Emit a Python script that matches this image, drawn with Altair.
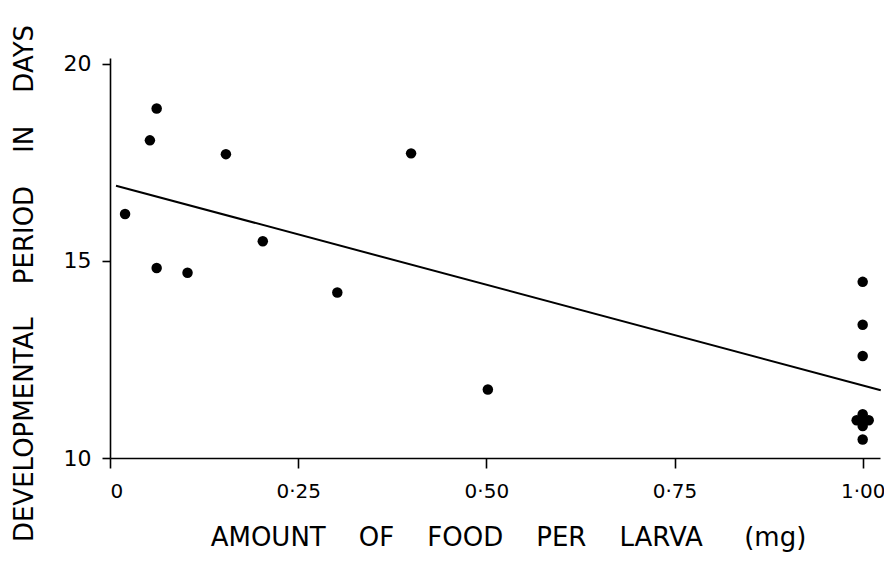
import altair as alt
import pandas as pd

# Data
food_mg = [0.02, 0.053, 0.062, 0.062, 0.103, 0.154, 0.203, 0.302, 0.40, 0.502,
           1.0, 1.0, 1.0, 0.992, 1.0, 1.008, 1.0, 1.0, 1.0]
dev_days = [16.19, 18.06, 18.87, 14.82, 14.70, 17.71, 15.5, 14.2, 17.73, 11.74,
            14.47, 13.38, 12.59, 10.96, 11.11, 10.96, 10.81, 10.96, 10.47]

fit_x = [0.008, 1.024]
fit_y = [16.91, 11.72]

x_ticks = [0, 0.25, 0.5, 0.75, 1.0]
y_ticks = [10, 15, 20]

NB = "\u00a0"
gap_x = NB * 4
gap_y = NB * 4
x_title = gap_x.join(["AMOUNT", "OF", "FOOD", "PER", "LARVA", NB + "(mg)"])
y_title = gap_y.join(["DEVELOPMENTAL", "PERIOD", "IN", "DAYS"])

pts = pd.DataFrame({"x": food_mg, "y": dev_days})
fit = pd.DataFrame({"x": fit_x, "y": fit_y})

FONT = "DejaVu Sans"

xscale = alt.Scale(domain=[0, 1.023], nice=False, zero=False)
yscale = alt.Scale(domain=[10, 20.15], nice=False, zero=False)

xaxis = alt.Axis(
    values=x_ticks,
    labelExpr="datum.value == 0 ? '0' : replace(format(datum.value, '.2f'), '.', '\u00b7')",
    title=x_title,
    grid=False,
    tickSize=10,
    labelPadding=13,
    labelFontSize=20,
    titleFontSize=26,
    titleX=398,
    titleY=87,
    titleBaseline="alphabetic",
    titleAlign="center",
)
yaxis = alt.Axis(
    values=y_ticks,
    title=y_title,
    grid=False,
    tickSize=8,
    labelPadding=11,
    labelFontSize=22,
    titleFontSize=26,
    titleAngle=270,
    titleX=-86,
    titleY=225,
    titleBaseline="middle",
    titleAlign="center",
)

points = alt.Chart(pts).mark_circle(size=110, color="black", opacity=1).encode(
    x=alt.X("x:Q", scale=xscale, axis=xaxis),
    y=alt.Y("y:Q", scale=yscale, axis=yaxis),
)

line = alt.Chart(fit).mark_line(color="black", strokeWidth=2, clip=False).encode(
    x=alt.X("x:Q", scale=xscale),
    y=alt.Y("y:Q", scale=yscale),
)

chart = (
    alt.layer(line, points)
    .properties(
        width=770,
        height=400,
        autosize=alt.AutoSizeParams(type="none"),
        padding={"left": 102, "top": 50, "right": 4, "bottom": 95},
        background="white",
    )
    .configure_view(stroke=None)
    .configure_axis(
        domainColor="black",
        domainWidth=1.6,
        tickColor="black",
        tickWidth=1.6,
        labelColor="black",
        titleColor="black",
        labelFont=FONT,
        titleFont=FONT,
        labelFontWeight="normal",
        titleFontWeight="normal",
    )
)

chart.save("out.html", embed_options={"renderer": "svg", "actions": False})
